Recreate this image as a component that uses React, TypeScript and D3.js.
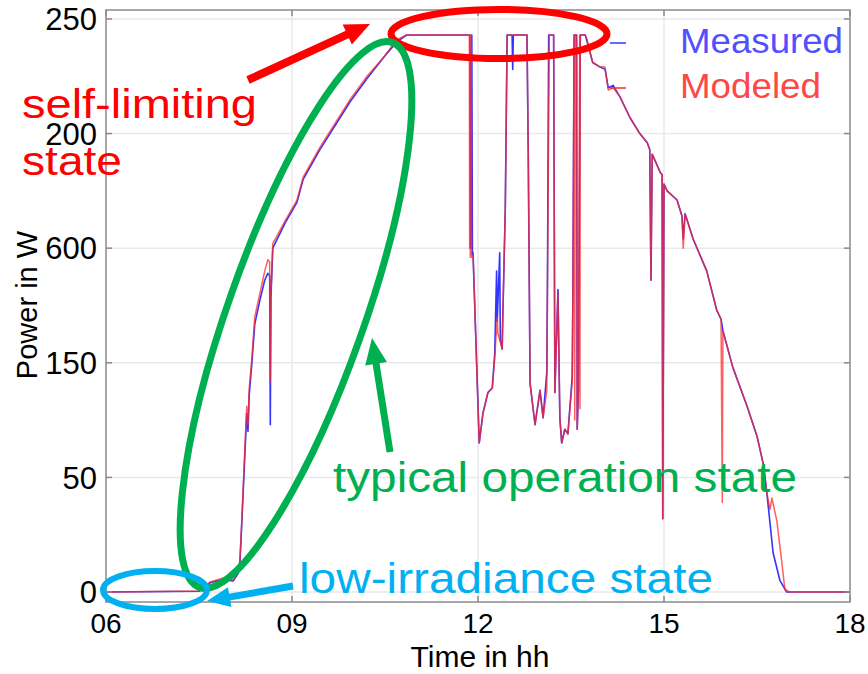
import React from "react";
import * as d3 from "d3";

// ---- data (hours, watts) ----
const measured: [number, number][] = [
  [6.0, 0], [7.5, 0.3], [7.68, 4.0], [7.89, 5.5], [8.05, 4.8], [8.13, 8.0], [8.16, 13], [8.19, 30],
  [8.24, 60], [8.27, 78], [8.29, 70], [8.31, 86], [8.35, 99], [8.4, 117], [8.48, 127], [8.56, 136],
  [8.61, 139], [8.64, 138], [8.65, 73], [8.66, 128], [8.69, 150], [8.89, 161], [9.08, 170], [9.18, 180],
  [9.45, 193], [9.94, 214], [10.21, 224], [10.47, 233], [10.69, 240], [10.85, 243], [11.87, 243],
  [11.88, 150], [11.9, 243], [11.91, 147], [11.92, 148], [12.02, 65], [12.08, 78], [12.16, 87], [12.23, 89],
  [12.27, 104], [12.3, 140], [12.31, 118], [12.35, 148], [12.36, 110], [12.39, 106], [12.4, 120], [12.44, 167],
  [12.47, 243], [12.55, 243], [12.56, 228], [12.57, 243], [12.79, 243], [12.81, 193], [12.84, 91], [12.92, 73],
  [13.0, 88], [13.05, 76], [13.11, 96], [13.12, 135], [13.14, 243], [13.22, 243], [13.24, 87], [13.29, 132],
  [13.32, 76], [13.35, 65], [13.4, 71], [13.45, 69], [13.52, 94], [13.53, 129], [13.55, 243], [13.59, 243],
  [13.6, 71], [13.62, 88], [13.65, 243], [13.73, 243], [13.76, 240], [13.85, 231], [13.97, 229], [14.05, 228],
  [14.1, 220], [14.18, 221], [14.29, 216], [14.45, 207], [14.61, 200], [14.73, 196], [14.77, 193], [14.79, 136],
  [14.81, 191], [14.94, 183], [14.97, 182], [14.98, 32], [15.0, 178], [15.05, 175], [15.21, 171], [15.29, 164],
  [15.31, 154], [15.34, 165], [15.47, 154], [15.69, 140], [15.85, 123], [15.92, 119], [15.95, 114], [16.11, 98],
  [16.34, 81], [16.5, 68], [16.6, 56], [16.66, 43], [16.76, 17], [16.87, 5], [16.98, 0], [18.0, 0],
];

const modeled: [number, number][] = [
  [6.0, 0], [7.5, 0.4], [7.68, 4.4], [7.89, 6.1], [8.05, 5.2], [8.13, 8.7], [8.16, 14], [8.19, 31],
  [8.24, 63], [8.27, 81], [8.29, 73], [8.31, 89], [8.35, 101], [8.4, 120], [8.48, 130], [8.56, 140],
  [8.61, 145], [8.64, 144], [8.65, 92], [8.66, 130], [8.69, 152], [8.89, 162], [9.08, 171], [9.18, 181],
  [9.45, 194], [9.94, 215], [10.21, 225], [10.47, 233], [10.69, 241], [10.85, 243], [11.86, 243],
  [11.865, 150], [11.87, 243], [11.875, 146], [11.88, 240], [11.885, 148], [11.89, 243], [11.895, 146],
  [11.92, 147], [12.02, 65], [12.08, 78], [12.16, 87], [12.23, 89], [12.27, 102], [12.31, 120], [12.32, 113],
  [12.39, 106], [12.4, 120], [12.44, 167], [12.47, 243], [12.79, 243], [12.81, 193], [12.84, 91], [12.92, 73],
  [13.0, 88], [13.05, 76], [13.11, 88], [13.12, 130], [13.15, 243], [13.22, 243], [13.24, 87], [13.29, 130],
  [13.32, 76], [13.35, 65], [13.4, 71], [13.45, 69], [13.52, 92], [13.53, 129], [13.55, 243], [13.56, 75],
  [13.57, 243], [13.59, 243], [13.6, 71], [13.62, 88], [13.64, 243], [13.645, 80], [13.65, 243], [13.73, 243],
  [13.76, 241], [13.85, 231], [13.97, 229], [14.05, 229], [14.1, 219], [14.18, 220], [14.29, 216], [14.45, 207],
  [14.61, 200], [14.73, 196], [14.77, 193], [14.79, 136], [14.81, 191], [14.94, 183], [14.97, 182], [14.98, 32],
  [15.0, 178], [15.05, 175], [15.21, 171], [15.29, 164], [15.31, 150], [15.34, 165], [15.47, 154], [15.69, 140],
  [15.85, 123], [15.92, 119], [15.94, 39], [15.95, 114], [16.11, 98], [16.34, 81], [16.5, 68], [16.6, 56],
  [16.66, 43], [16.71, 36], [16.74, 41], [16.82, 31], [16.9, 13], [16.95, 1], [17.03, 0], [18.0, 0],
];

const xTickValues = [6, 9, 12, 15, 18];
const xTickLabels = ["06", "09", "12", "15", "18"];
const yTickValues = [0, 50, 100, 150, 200, 250];
const yTickLabels = ["0", "50", "150", "600", "200", "250"];
const seriesNames = ["Measured", "Modeled"];

const FONT = "'Liberation Sans', Arial, Helvetica, sans-serif";

function Arrow({ x1, y1, x2, y2, color, sw, hl, hw }: any) {
  const dx = x2 - x1, dy = y2 - y1;
  const L = Math.hypot(dx, dy);
  const ux = dx / L, uy = dy / L;
  const bx = x2 - ux * hl, by = y2 - uy * hl;
  const px = -uy, py = ux;
  const pts = [
    [x2, y2],
    [bx + px * hw, by + py * hw],
    [bx - px * hw, by - py * hw],
  ];
  return (
    <g>
      <line x1={x1} y1={y1} x2={bx + ux * 2} y2={by + uy * 2} stroke={color} strokeWidth={sw} />
      <polygon points={pts.map((p) => p.join(",")).join(" ")} fill={color} />
    </g>
  );
}

export default function App() {
  const W = 868, H = 674;
  const left = 106, right = 850, top = 10, bottom = 602;
  const x = d3.scaleLinear().domain([6, 18]).range([left, right]);
  const y = d3.scaleLinear().domain([-4.36, 253.9]).range([bottom, top]);
  const line = d3
    .line<[number, number]>()
    .x((d) => x(d[0]))
    .y((d) => y(d[1]));

  const gridColor = "#e9e9e9";
  const axisColor = "#8a8a8a";

  return (
    <svg
      width={W}
      height={H}
      style={{ position: "absolute", left: 0, top: 0, background: "#fff" }}
      fontFamily={FONT}
    >
      <rect x={0} y={0} width={W} height={H} fill="#fff" />
      {/* grid */}
      {xTickValues.slice(1, -1).map((v) => (
        <line key={"gx" + v} x1={x(v)} x2={x(v)} y1={top} y2={bottom} stroke={gridColor} strokeWidth={1.5} />
      ))}
      {yTickValues.map((v) => (
        <line key={"gy" + v} x1={left} x2={right} y1={y(v)} y2={y(v)} stroke={gridColor} strokeWidth={1.5} />
      ))}

      {/* data */}
      <path d={line(measured) || ""} fill="none" stroke="#3434ff" strokeWidth={1.6} strokeLinejoin="round" />
      <path d={line(modeled) || ""} fill="none" stroke="#ff2a2a" strokeOpacity={0.75} strokeWidth={1.5} strokeLinejoin="round" />

      {/* box and ticks */}
      <rect x={left} y={top} width={right - left} height={bottom - top} fill="none" stroke={axisColor} strokeWidth={1.5} />
      {xTickValues.map((v) => (
        <g key={"xt" + v}>
          <line x1={x(v)} x2={x(v)} y1={bottom} y2={bottom - 6} stroke={axisColor} strokeWidth={1.5} />
          <line x1={x(v)} x2={x(v)} y1={top} y2={top + 6} stroke={axisColor} strokeWidth={1.5} />
        </g>
      ))}
      {yTickValues.map((v) => (
        <g key={"yt" + v}>
          <line x1={left} x2={left + 6} y1={y(v)} y2={y(v)} stroke={axisColor} strokeWidth={1.5} />
          <line x1={right} x2={right - 6} y1={y(v)} y2={y(v)} stroke={axisColor} strokeWidth={1.5} />
        </g>
      ))}
      {xTickValues.map((v, i) => (
        <text key={"xl" + v} x={x(v)} y={633} textAnchor="middle" fontSize={28} fill="#000">
          {xTickLabels[i]}
        </text>
      ))}
      {yTickValues.map((v, i) => (
        <text key={"yl" + v} x={97} y={y(v)} dy="0.36em" textAnchor="end" fontSize={31} fill="#000">
          {yTickLabels[i]}
        </text>
      ))}
      <text x={480} y={667} textAnchor="middle" fontSize={30} fill="#000">
        Time in hh
      </text>
      <text transform="translate(37,305) rotate(-90)" textAnchor="middle" fontSize={29} fill="#000">
        Power in W
      </text>

      {/* legend */}
      <line x1={610} x2={626} y1={43} y2={43} stroke="#3434ff" strokeWidth={1.5} />
      <line x1={610} x2={626} y1={88} y2={88} stroke="#ff2a2a" strokeWidth={1.5} />
      <text x={680} y={53} fontSize={35} fill="#5050ff" textLength={163} lengthAdjust="spacingAndGlyphs">
        {seriesNames[0]}
      </text>
      <text x={680} y={98} fontSize={35} fill="#ff4747" textLength={141} lengthAdjust="spacingAndGlyphs">
        {seriesNames[1]}
      </text>

      {/* annotations */}
      <ellipse cx={499} cy={34} rx={108} ry={24.5} fill="none" stroke="#ff0000" strokeWidth={7} />
      <ellipse
        cx={0}
        cy={0}
        rx={68}
        ry={289}
        transform="translate(296,315) rotate(19.5)"
        fill="none"
        stroke="#00b050"
        strokeWidth={7}
      />
      <ellipse cx={155} cy={590} rx={52} ry={19} fill="none" stroke="#00b0f0" strokeWidth={6} />

      <Arrow x1={248} y1={80} x2={370} y2={24} color="#ff0000" sw={8} hl={25} hw={11} />
      <Arrow x1={390} y1={452} x2={372} y2={338} color="#00b050" sw={7} hl={26} hw={11} />
      <Arrow x1={293} y1={586} x2={207} y2={601} color="#00b0f0" sw={7} hl={23} hw={10} />

      <text x={22} y={118} fontSize={41} fill="#ff0000" textLength={235} lengthAdjust="spacingAndGlyphs">
        self-limiting
      </text>
      <text x={22} y={175} fontSize={41} fill="#ff0000" textLength={100} lengthAdjust="spacingAndGlyphs">
        state
      </text>
      <text x={333} y={492} fontSize={42} fill="#00b050" textLength={464} lengthAdjust="spacingAndGlyphs">
        typical operation state
      </text>
      <text x={299} y={593} fontSize={42} fill="#00b0f0" textLength={414} lengthAdjust="spacingAndGlyphs">
        low-irradiance state
      </text>
    </svg>
  );
}
